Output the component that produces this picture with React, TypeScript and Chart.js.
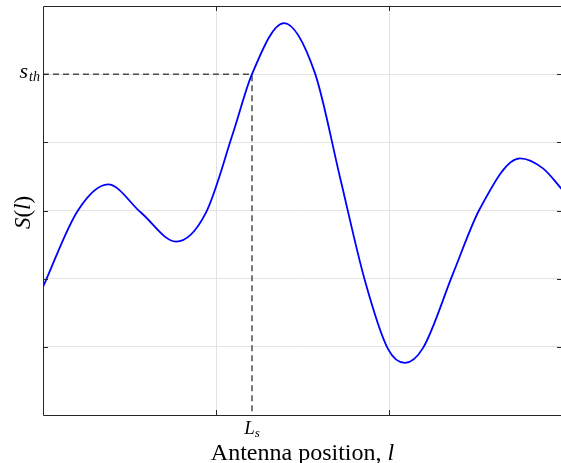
import React, { useEffect, useRef } from 'react';
import { Chart, registerables } from 'chart.js';

Chart.register(...registerables);

// Antenna position l (arbitrary units) and received signal S(l)
const positions = [0, 0.202, 0.376, 0.566, 0.769, 0.942, 1.098, 1.208, 1.393, 1.572, 1.717, 1.861, 1.994, 2.092, 2.197, 2.370, 2.526, 2.757, 2.890, 3.0];
const signal = [1.88, 3.0, 3.382, 2.97, 2.544, 2.97, 4.132, 5.0, 5.75, 5.015, 3.485, 1.97, 0.97, 0.765, 0.985, 2.074, 3.03, 3.765, 3.618, 3.31];

const thresholdLevel = 5;
const crossingPosition = 1.208;
const xTickValues = [1, 2];
const yTickValues = [1, 2, 3, 4, 5];
const xRange = [0, 3];
const yRange = [0, 6];

const AXIS_COLOR = '#262626';
const GRID_COLOR = '#e3e3e3';

const framePlugin = {
  id: 'matlabFrame',
  afterDraw(chart: any) {
    const { ctx, chartArea, scales } = chart;
    const { left, right, top, bottom } = chartArea;
    const xs = scales.x;
    const ys = scales.y;
    ctx.save();
    ctx.strokeStyle = AXIS_COLOR;
    ctx.lineWidth = 1;
    ctx.beginPath();
    ctx.rect(Math.round(left) + 0.5, Math.round(top) + 0.5, Math.round(right - left), Math.round(bottom - top));
    ctx.stroke();
    const tl = 5;
    ctx.beginPath();
    for (const v of xTickValues) {
      const px = Math.round(xs.getPixelForValue(v)) + 0.5;
      ctx.moveTo(px, bottom);
      ctx.lineTo(px, bottom - tl);
      ctx.moveTo(px, top);
      ctx.lineTo(px, top + tl);
    }
    for (const v of yTickValues) {
      const py = Math.round(ys.getPixelForValue(v)) + 0.5;
      ctx.moveTo(left, py);
      ctx.lineTo(left + tl, py);
      ctx.moveTo(right, py);
      ctx.lineTo(right - tl, py);
    }
    ctx.stroke();

    ctx.fillStyle = '#000';
    ctx.textBaseline = 'alphabetic';
    const serif = '"Liberation Serif", "DejaVu Serif", serif';

    // s_th label
    const sy = ys.getPixelForValue(thresholdLevel);
    ctx.font = `italic 14px ${serif}`;
    const thW = ctx.measureText('th').width;
    ctx.font = `italic 22px ${serif}`;
    const sW = ctx.measureText('s').width;
    const startX = left - 4 - thW - sW;
    ctx.textAlign = 'left';
    ctx.fillText('s', startX, sy + 4);
    ctx.font = `italic 14px ${serif}`;
    ctx.fillText('th', startX + sW + 1, sy + 7);

    // L_s label
    const lx = xs.getPixelForValue(crossingPosition);
    ctx.font = `italic 19px ${serif}`;
    const LW = ctx.measureText('L').width;
    ctx.font = `italic 13px ${serif}`;
    const subW = ctx.measureText('s').width;
    const lStart = lx - (LW + subW) / 2;
    ctx.font = `italic 19px ${serif}`;
    ctx.fillText('L', lStart, bottom + 19);
    ctx.font = `italic 13px ${serif}`;
    ctx.fillText('s', lStart + LW, bottom + 22);

    // x title
    const normal = `24px ${serif}`;
    const ital = `italic 24px ${serif}`;
    ctx.font = normal;
    const partA = 'Antenna position, ';
    const aW = ctx.measureText(partA).width;
    ctx.font = ital;
    const bW = ctx.measureText('l').width;
    const cx = (left + right) / 2;
    const tx = cx - (aW + bW) / 2;
    ctx.font = normal;
    ctx.fillText(partA, tx, bottom + 45);
    ctx.font = ital;
    ctx.fillText('l', tx + aW, bottom + 45);

    // y title S(l)
    const yNormal = `23px ${serif}`;
    const yItal = `italic 23px ${serif}`;
    const parts: [string, boolean][] = [['S', true], ['(', false], ['l', true], [')', false]];
    let total = 0;
    const widths: number[] = [];
    for (const [t, it] of parts) {
      ctx.font = it ? yItal : yNormal;
      const w = ctx.measureText(t).width;
      widths.push(w);
      total += w;
    }
    const cy = (top + bottom) / 2 + 2;
    ctx.translate(30, cy);
    ctx.rotate(-Math.PI / 2);
    let px = -total / 2;
    parts.forEach(([t, it], i) => {
      ctx.font = it ? yItal : yNormal;
      ctx.fillText(t, px, 0);
      px += widths[i];
    });
    ctx.restore();
  },
};

export default function App() {
  const canvasRef = useRef<HTMLCanvasElement | null>(null);

  useEffect(() => {
    const canvas = canvasRef.current;
    if (!canvas) return;
    const gridColor = (c: any) => {
      const v = c.tick ? c.tick.value : null;
      if (v === null || v <= 0) return 'rgba(0,0,0,0)';
      if (c.scale.axis === 'y' && v >= 6) return 'rgba(0,0,0,0)';
      if (c.scale.axis === 'x' && v >= 3) return 'rgba(0,0,0,0)';
      return GRID_COLOR;
    };
    const chart = new Chart(canvas, {
      type: 'line',
      data: {
        datasets: [
          {
            label: 'S(l)',
            data: positions.map((x, i) => ({ x, y: signal[i] })),
            borderColor: '#0000ff',
            borderWidth: 1.8,
            pointRadius: 0,
            cubicInterpolationMode: 'monotone',
            fill: false,
          },
          {
            label: 'threshold',
            data: [
              { x: xRange[0], y: thresholdLevel },
              { x: crossingPosition, y: thresholdLevel },
              { x: crossingPosition, y: yRange[0] },
            ],
            borderColor: '#4d4d4d',
            borderWidth: 1.5,
            borderDash: [6, 4],
            pointRadius: 0,
            tension: 0,
            fill: false,
          },
        ],
      },
      options: {
        animation: false,
        responsive: false,
        devicePixelRatio: 1,
        layout: { padding: { left: 43, right: 0, top: 6, bottom: 48 } },
        plugins: { legend: { display: false }, tooltip: { enabled: false } },
        scales: {
          x: {
            type: 'linear',
            min: xRange[0],
            max: xRange[1],
            ticks: { display: false, stepSize: 1 },
            grid: { color: gridColor, drawTicks: false, lineWidth: 1 },
            border: { display: false },
          },
          y: {
            type: 'linear',
            min: yRange[0],
            max: yRange[1],
            ticks: { display: false, stepSize: 1 },
            grid: { color: gridColor, drawTicks: false, lineWidth: 1 },
            border: { display: false },
          },
        },
      },
      plugins: [framePlugin],
    });
    return () => chart.destroy();
  }, []);

  return (
    <div style={{ position: 'absolute', left: 0, top: 0, width: 561, height: 463, overflow: 'hidden', background: '#fff' }}>
      <canvas ref={canvasRef} width={562} height={463} style={{ display: 'block' }} />
    </div>
  );
}
